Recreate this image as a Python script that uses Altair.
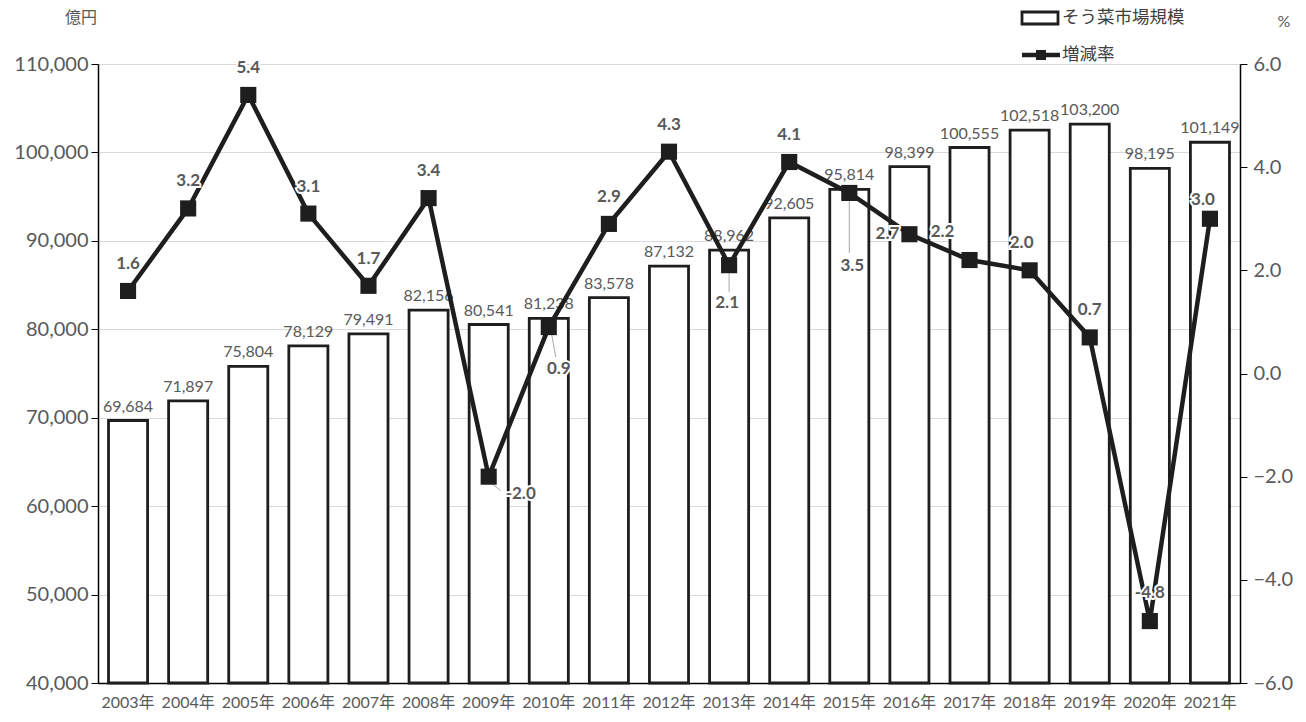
import altair as alt
import pandas as pd

years = [f"{y}年" for y in range(2003, 2022)]
market = [69684, 71897, 75804, 78129, 79491, 82156, 80541, 81238, 83578, 87132,
          88962, 92605, 95814, 98399, 100555, 102518, 103200, 98195, 101149]
rate = [1.6, 3.2, 5.4, 3.1, 1.7, 3.4, -2.0, 0.9, 2.9, 4.3,
        2.1, 4.1, 3.5, 2.7, 2.2, 2.0, 0.7, -4.8, 3.0]

df = pd.DataFrame({"year": years, "market": market, "rate": rate})
df["market_label"] = [f"{v:,}" for v in market]
df["rate_label"] = [f"{v:.1f}" for v in rate]

FONT = "Lato, Noto Sans CJK JP"
GRAY = "#595959"
INK = "#1e1e1e"

W, H = 1142, 619

x = alt.X("year:N", sort=years,
          scale=alt.Scale(paddingInner=0.35, paddingOuter=0.175),
          axis=alt.Axis(title=None, labelAngle=0, ticks=False, labelFontSize=16,
                        labelColor=GRAY, labelFont=FONT, domainColor="black",
                        domainWidth=1.5, labelPadding=11))

yl = alt.Y("market:Q", scale=alt.Scale(domain=[40000, 110000], zero=False, nice=False),
           axis=alt.Axis(title=None, values=list(range(40000, 110001, 10000)), format=",.0f",
                         labelFontSize=20, labelColor=GRAY, labelFont=FONT,
                         tickColor="black", domainColor="black", domainWidth=1.5,
                         tickSize=7, labelPadding=3, gridColor="#d9d9d9", grid=True))

base = alt.Chart(df)
bars = base.mark_bar(fill="white", stroke=INK, strokeWidth=2.8).encode(
    x=x, y=yl, y2=alt.datum(40000))
bar_labels = base.mark_text(fontSize=16, color=GRAY, font=FONT, dy=-14).encode(
    x=x, y=alt.Y("market:Q"), text="market_label:N")
left = alt.layer(bars, bar_labels)

yr = alt.Y("rate:Q", scale=alt.Scale(domain=[-6, 6], nice=False, zero=False),
           axis=alt.Axis(title=None, orient="right", values=[-6, -4, -2, 0, 2, 4, 6],
                         format=".1f", labelFontSize=20, labelColor=GRAY, labelFont=FONT,
                         tickColor="black", domainColor="black", domainWidth=1.5,
                         tickSize=7, labelPadding=6, grid=False))

# leader lines from points to displaced labels
leaders = {
    "2009年": dict(xOffset=2, yOffset=6, x2Offset=12, y2Offset=14),
    "2010年": dict(xOffset=3, yOffset=8, x2Offset=7, y2Offset=30),
    "2013年": dict(xOffset=0, yOffset=8, x2Offset=0, y2Offset=27),
    "2015年": dict(xOffset=0, yOffset=8, x2Offset=0, y2Offset=60),
}
leader_layers = []
for yname, off in leaders.items():
    sel = base.transform_filter(alt.datum.year == yname)
    leader_layers.append(sel.mark_rule(color="#a6a6a6", strokeWidth=1, **off).encode(
        x=x, y=yr, x2=alt.X2("year:N"), y2=alt.Y2("rate:Q")))

line = base.mark_line(color=INK, strokeWidth=4.5).encode(x=x, y=yr)
pts = base.mark_point(shape="square", filled=True, size=260, color=INK, opacity=1).encode(
    x=x, y=yr)

# label offsets (dx, dy) relative to each point
default_off = (0, -27)
special = {
    "2009年": (32, 17), "2010年": (10, 42), "2013年": (-2, 38), "2015年": (3, 73),
    "2016年": (-22, 0), "2017年": (-27, -28), "2018年": (-8, -27),
    "2021年": (-7, -19), "2020年": (0, -28),
}
groups = {}
for yname in years:
    groups.setdefault(special.get(yname, default_off), []).append(yname)

rate_layers = leader_layers + [line, pts]
for (dx, dy), ys in groups.items():
    sel = base.transform_filter(alt.FieldOneOfPredicate(field="year", oneOf=ys))
    rate_layers.append(sel.mark_text(fontSize=17, fontWeight="bold", font=FONT,
                                     color="white", stroke="white", strokeWidth=4,
                                     dx=dx, dy=dy).encode(x=x, y=yr, text="rate_label:N"))
    rate_layers.append(sel.mark_text(fontSize=17, fontWeight="bold", font=FONT,
                                     color=GRAY, dx=dx, dy=dy).encode(
        x=x, y=yr, text="rate_label:N"))
right = alt.layer(*rate_layers)

one = alt.Chart(pd.DataFrame({"a": [0]}))
leg_rect = one.mark_rect(fill="white", stroke=INK, strokeWidth=2.8).encode(
    x=alt.value(924), x2=alt.value(960), y=alt.value(-52), y2=alt.value(-40))
leg_t1 = one.mark_text(align="left", baseline="middle", fontSize=17.5, font=FONT,
                       color="#404040").encode(
    x=alt.value(964), y=alt.value(-46), text=alt.value("そう菜市場規模"))
leg_line = one.mark_rule(color=INK, strokeWidth=4.5).encode(
    x=alt.value(924), x2=alt.value(962), y=alt.value(-9))
leg_pt = one.mark_point(shape="square", filled=True, size=100, color=INK, opacity=1).encode(
    x=alt.value(943), y=alt.value(-9))
leg_t2 = one.mark_text(align="left", baseline="middle", fontSize=17.5, font=FONT,
                       color="#404040").encode(
    x=alt.value(964), y=alt.value(-9), text=alt.value("増減率"))
unit_l = one.mark_text(align="center", baseline="middle", fontSize=16, font=FONT,
                       color=GRAY).encode(
    x=alt.value(-17), y=alt.value(-46), text=alt.value("億円"))
unit_r = one.mark_text(align="center", baseline="middle", fontSize=16, font=FONT,
                       color=GRAY).encode(
    x=alt.value(1186), y=alt.value(-42), text=alt.value("%"))

chart = alt.layer(left, right, leg_rect, leg_t1, leg_line, leg_pt, leg_t2, unit_l, unit_r
                  ).resolve_scale(y="independent").properties(
    width=W, height=H,
    autosize=alt.AutoSizeParams(type="none"),
    padding={"left": 98, "top": 64, "right": 66, "bottom": 39},
    background="white",
).configure_view(strokeWidth=0)

chart.save("out.html", embed_options={"renderer": "svg", "actions": False})
